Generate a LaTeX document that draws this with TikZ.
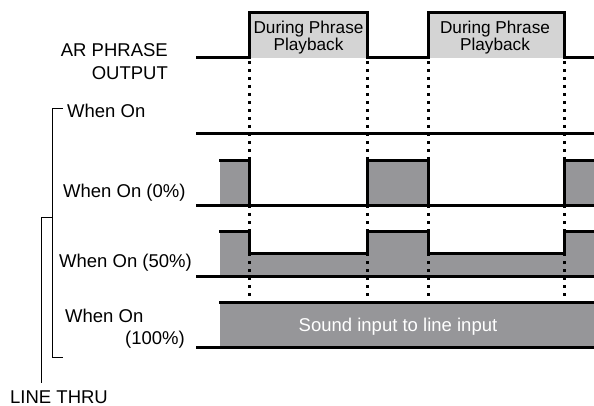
\documentclass[tikz,border=0pt]{standalone}
\usepackage{fontspec}
\setmainfont{Liberation Sans}
\definecolor{wavegray}{RGB}{150,150,153}
\definecolor{boxgray}{RGB}{212,212,212}
\tikzset{
  sig/.style={line width=3pt, line join=miter, line cap=rect},
  dots/.style={line width=3pt, dash pattern=on 3pt off 5pt},
  brk/.style={line width=1pt},
  lbl/.style={font=\fontsize{18.5}{22}\selectfont, inner sep=0pt},
  boxlbl/.style={font=\fontsize{17.2}{16}\selectfont, inner sep=0pt, align=center},
}
\begin{document}
\begin{tikzpicture}[x=1pt,y=-1pt]
\useasboundingbox (0,0) rectangle (594,406);
% box fills
\fill[boxgray] (249,13) rectangle (367,58);
\fill[boxgray] (428,13) rectangle (564,58);
% gray fills
\fill[wavegray] (220,161) rectangle (249,206);
\fill[wavegray] (367,161) rectangle (428,206);
\fill[wavegray] (564,161) rectangle (594,206);
\fill[wavegray] (220,231) -- (249,231) -- (249,253) -- (367,253) -- (367,231) -- (428,231) -- (428,253) -- (564,253) -- (564,231) -- (594,231) -- (594,276) -- (220,276) -- cycle;
\fill[wavegray] (220,302) rectangle (594,347);
% dotted guides
\foreach \x in {249,367,428,564} \draw[dots] (\x,61) -- (\x,302);
% AR phrase output
\draw[sig] (197,58) -- (249,58) -- (249,13) -- (367,13) -- (367,58) -- (428,58) -- (428,13) -- (564,13) -- (564,58) -- (594,58);
\draw[sig] (249,13) -- (367,13);
\draw[sig] (428,13) -- (564,13);
% When On
\draw[sig] (197,134) -- (594,134);
% When On 0%
\draw[sig] (220,161) -- (249,161) -- (249,206);
\draw[sig] (367,206) -- (367,161) -- (428,161) -- (428,206);
\draw[sig] (564,206) -- (564,161) -- (594,161);
\draw[sig] (197,206) -- (594,206);
% When On 50%
\draw[sig] (220,231) -- (249,231) -- (249,253) -- (367,253) -- (367,231) -- (428,231) -- (428,253) -- (564,253) -- (564,231) -- (594,231);
\draw[sig] (197,276) -- (594,276);
% When On 100%
\draw[sig] (220,302) -- (594,302);
\draw[sig] (197,347) -- (594,347);
% labels
\node[boxlbl, anchor=north] (dp1) at (308.5,20.5) {During Phrase\\Playback};
\node[boxlbl, anchor=north] (dp2) at (495,20.5) {During Phrase\\Playback};
\node[lbl, anchor=base east] (ar1) at (168,57) {AR PHRASE};
\node[lbl, anchor=base east] (ar2) at (168,80) {OUTPUT};
\node[lbl, anchor=base west] (won) at (67,118) {When On};
\node[lbl, anchor=base west] (w0) at (63,197) {When On (0\%)};
\node[lbl, anchor=base west] (w50) at (59,267) {When On (50\%)};
\node[lbl, anchor=base west] (w100a) at (65,322) {When On};
\node[lbl, anchor=base east] (w100b) at (185,344) {(100\%)};
\node[lbl, anchor=base west] (lt) at (10,403) {LINE THRU};
\node[lbl, anchor=center, text=white] (snd) at (398,327) {Sound input to line input};
% bracket
\coordinate (bt) at (63,109);
\coordinate (bb) at (63,357);
\coordinate (bm) at (52,217);
\coordinate (ltop) at (41,383);
\draw[brk] (bt) -- (52,109) -- (52,357) -- (bb);
\draw[brk] (bm) -- (41,217) -- (ltop);
\end{tikzpicture}
\end{document}
